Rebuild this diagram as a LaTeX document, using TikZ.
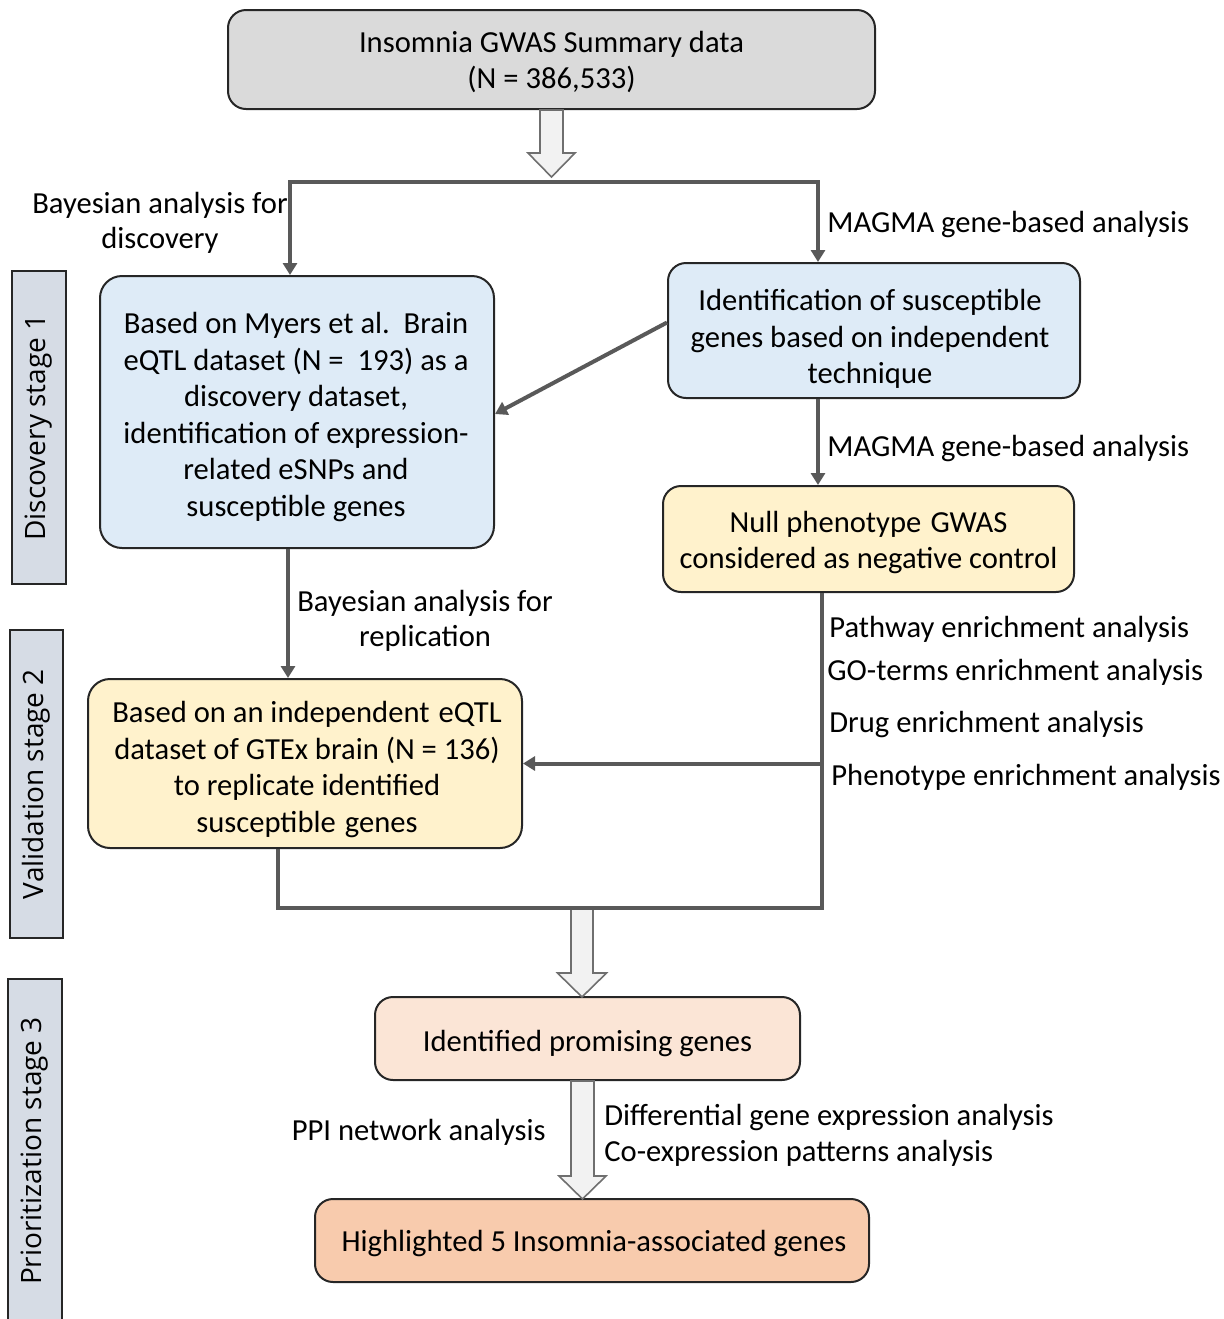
\documentclass[tikz,border=0pt]{standalone}
\usepackage{fontspec}
\setmainfont{Carlito}
\newfontfamily\barfont{Open Sans}
\usetikzlibrary{arrows.meta,calc}
\definecolor{boxline}{HTML}{262626}
\definecolor{cline}{HTML}{595959}
\definecolor{holline}{HTML}{6F6F6F}
\definecolor{holfill}{HTML}{F2F2F2}
\definecolor{grayfill}{HTML}{DADADA}
\definecolor{bluefill}{HTML}{DEEBF7}
\definecolor{yellowfill}{HTML}{FFF2CC}
\definecolor{peachfill}{HTML}{FBE5D6}
\definecolor{orangefill}{HTML}{F8CBAD}
\definecolor{barfill}{HTML}{D6DCE5}
\begin{document}
\begin{tikzpicture}[x=0.5pt,y=-0.5pt,
  box/.style={draw=boxline, line width=1pt, rounded corners=9pt, inner sep=0pt},
  boxtext/.style={align=center, font=\fontsize{15.3}{18.3}\selectfont, inner sep=0pt},
  conn/.style={draw=cline, line width=2pt, line join=miter},
  tipped/.style={-{Triangle[width=7pt,length=6pt]}},
  hol/.style={draw=holline, fill=holfill, line width=0.8pt, line join=miter},
  lab/.style={font=\fontsize{15.3}{17.5}\selectfont, inner sep=0pt, align=center},
  sidebar/.style={draw=boxline, fill=barfill, line width=1pt, rotate=90,
    font=\barfont\fontsize{14}{16}\selectfont, inner sep=0pt}]
\useasboundingbox (0,0) rectangle (1224,1319);

% side bars
\node[sidebar, minimum width=156.5pt, minimum height=27pt] (b1) at (39,427.5) {Discovery stage 1};
\node[sidebar, minimum width=154pt, minimum height=26.5pt] (b2) at (36.5,784) {Validation stage 2};
\node[sidebar, minimum width=172pt, minimum height=27pt] (b3) at (35,1151) {Prioritization stage 3};

% boxes
\node[box, fill=grayfill, minimum width=323.5pt, minimum height=49.5pt] (top) at (551.5,59.5) {};
\node[boxtext] (topt) at ($(top)+(0,2.5)$) {Insomnia GWAS Summary data\\(N = 386,533)};
\node[box, fill=bluefill, rounded corners=11pt, minimum width=197pt, minimum height=136pt] (L1) at (297,412) {};
\node[boxtext] (L1t) at ($(L1)+(-1,5)$)
  {Based on Myers et al.\ \ Brain\\eQTL dataset (N =\ \ 193) as a\\discovery dataset,\\identification of expression-\\related eSNPs and\\susceptible genes};
\node[box, fill=bluefill, minimum width=206pt, minimum height=67.5pt] (R1) at (874,330.5) {};
\node[boxtext] (R1t) at ($(R1)+(-4,8.5)$)
  {Identification of susceptible\\genes based on independent\\technique};
\node[box, fill=yellowfill, minimum width=205.5pt, minimum height=53pt] (R2) at (868.5,539) {};
\node[boxtext] (R2t) at ($(R2)+(0,3.5)$)
  {Null phenotype\hspace{0.3em}GWAS\\considered as negative control};
\node[box, fill=yellowfill, rounded corners=11pt, minimum width=217pt, minimum height=84.5pt] (L2) at (305,763.5) {};
\node[boxtext] (L2t) at ($(L2)+(2,6)$)
  {Based on an independent\hspace{0.3em}eQTL\\dataset of GTEx brain (N = 136)\\to replicate identified\\susceptible\hspace{0.3em}genes};
\node[box, fill=peachfill, minimum width=212.5pt, minimum height=41.5pt] (P1) at (587.5,1038.5) {};
\node[boxtext] (P1t) at ($(P1)+(0,5)$) {Identified promising genes};
\node[box, fill=orangefill, minimum width=277pt, minimum height=41.5pt] (P2) at (592,1240.5) {};
\node[boxtext] (P2t) at ($(P2)+(2,3)$) {Highlighted 5 Insomnia-associated genes};

% junction coordinates
\coordinate (bl) at (290,182);
\coordinate (br) at (818,182);
\coordinate (rc) at (822,908);
\coordinate (lc) at (278,908);
\coordinate (lv) at (288,600);
\coordinate (m2) at (582,909);
\coordinate (m3) at (582.5,600);

% hollow arrows
\draw[hol] ($(top.south)+(-11.5,0)$) -- ++(0,43) -- ++(-12,0) -- ++(23.5,24) -- ++(23.5,-24) -- ++(-12,0) -- ++(0,-43) -- cycle;
\draw[hol] ($(m2)+(-11,0)$) -- ++(0,64) -- ++(-13.5,0) -- ++(24.5,24) -- ++(24.5,-24) -- ++(-13.5,0) -- ++(0,-64) -- cycle;
\draw[hol] ($(m3 |- P1.south)+(-11.5,0)$) -- ++(0,95) -- ++(-12,0) -- ++(23.5,23) -- ++(23.5,-23) -- ++(-12,0) -- ++(0,-95) -- cycle;

% connectors
\draw[conn, {Triangle[width=7pt,length=6pt]}-{Triangle[width=7pt,length=6pt]}]
  (bl |- L1.north) -- (bl) -- (br) -- (br |- R1.north);
\draw[conn, tipped] ([yshift=4pt]R1.west) -- ([yshift=-1pt]L1.east);
\draw[conn, tipped] (br |- R1.south) -- (br |- R2.north);
\draw[conn, tipped] (lv |- L1.south) -- (lv |- L2.north);
\draw[conn] (lc |- L2.south) -- (lc) -- (rc) -- (rc |- R2.south);
\draw[conn, tipped] (rc |- L2.east) -- (L2.east);

% labels
\node[lab] (lbd) at (160,222.5) {Bayesian analysis for\\discovery};
\node[lab, anchor=west] (lm1) at (827,224) {MAGMA gene-based analysis};
\node[lab, anchor=west] (lm2) at (827,448) {MAGMA gene-based analysis};
\node[lab] (lbr) at (425,620.5) {Bayesian analysis for\\replication};
\node[lab, anchor=west] (lp1) at (829,629) {Pathway enrichment analysis};
\node[lab, anchor=west] (lp2) at (827,672) {GO-terms enrichment analysis};
\node[lab, anchor=west] (lp3) at (829,724) {Drug enrichment analysis};
\node[lab, anchor=west] (lp4) at (831,777) {Phenotype enrichment analysis};
\node[lab, anchor=east] (lppi) at (546,1132) {PPI network analysis};
\node[lab, anchor=west] (ld1) at (604,1117) {Differential gene expression analysis};
\node[lab, anchor=west] (ld2) at (604,1153) {Co-expression patterns analysis};
\end{tikzpicture}
\end{document}
